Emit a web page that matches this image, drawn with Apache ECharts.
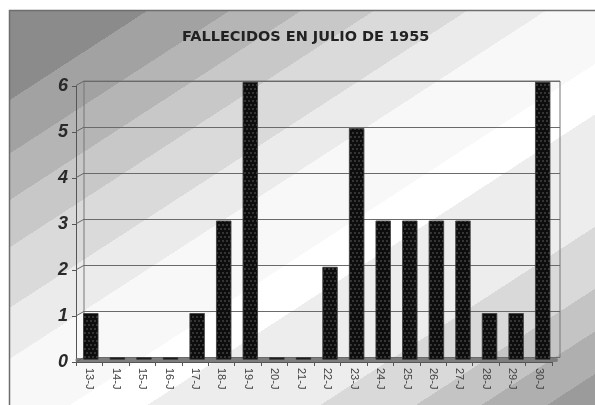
<!DOCTYPE html>
<html><head><meta charset="utf-8">
<script src="https://cdn.jsdelivr.net/npm/echarts@6/dist/echarts.min.js"></script>
<style>html,body{margin:0;padding:0;background:#fff}#c{width:595px;height:405px}</style>
</head><body><div id="c"></div>
<script>
var titleText = 'FALLECIDOS EN JULIO DE 1955';
var categories = ['13-J','14-J','15-J','16-J','17-J','18-J','19-J','20-J','21-J','22-J','23-J','24-J','25-J','26-J','27-J','28-J','29-J','30-J'];
var deaths = [1,0,0,0,1,3,6,0,0,2,5,3,3,3,3,1,1,6];
var yTicks = [0,1,2,3,4,5,6];

var bands = [
  [0.000,'#8b8b8b'],[0.116,'#a2a2a2'],[0.185,'#b5b5b5'],[0.245,'#c8c8c8'],
  [0.306,'#dadada'],[0.384,'#ebebeb'],[0.450,'#f8f8f8'],[0.560,'#ffffff'],
  [0.625,'#ededed'],[0.770,'#d9d9d9'],[0.850,'#c4c4c4'],[0.905,'#afafaf'],[0.960,'#9b9b9b']
];
var stops = [];
for (var i = 0; i < bands.length; i++) {
  var end = i + 1 < bands.length ? bands[i+1][0] : 1;
  stops.push({offset: bands[i][0], color: bands[i][1]});
  stops.push({offset: end, color: bands[i][1]});
}

var chart = echarts.init(document.getElementById('c'), null, {renderer:'canvas'});
var axisFont = 'Arial, "Liberation Sans", sans-serif';
chart.setOption({
  animation: false,
  graphic: [{
    type: 'rect', z: -100, silent: true,
    shape: {x: 9.5, y: 10.5, width: 620, height: 420},
    style: {
      fill: {type:'linear', x:10, y:10, x2:364, y2:555, global:true, colorStops: stops},
      stroke: '#6e6e6e', lineWidth: 1.5
    }
  }],
  title: {
    text: titleText, left: 177, top: 25,
    textStyle: {fontFamily: '"DejaVu Sans", Arial, sans-serif', fontWeight: 'bold', fontSize: 14.5, color: '#222'}
  },
  grid: [
    {left: 84, right: 35, top: 81, bottom: 47.5, show: true, borderColor: '#777', borderWidth: 1, backgroundColor: 'transparent'},
    {left: 77.5, right: 39, top: 82, bottom: 45.5},
    {left: 76, right: 43, top: 86, bottom: 43}
  ],
  xAxis: [
    {gridIndex: 0, type: 'category', data: categories, axisLine: {show:false}, axisTick: {show:false}, axisLabel: {show:false}},
    {gridIndex: 1, type: 'category', data: categories, axisLine: {show:true, lineStyle:{color:'#7d7d7d', width:4}}, axisTick: {show:false}, axisLabel: {show:false}},
    {gridIndex: 2, type: 'category', data: categories,
      axisLine: {show:true, lineStyle:{color:'#555', width:1}},
      axisTick: {show:true, length:4, lineStyle:{color:'#555'}},
      axisLabel: {rotate: -90, margin: 6, fontFamily: axisFont, fontSize: 11, color: '#444'}}
  ],
  yAxis: [
    {gridIndex: 0, type: 'value', min: 0, max: 6, interval: 1, axisLine:{show:false}, axisTick:{show:false}, axisLabel:{show:false},
      splitLine: {show:true, lineStyle:{color:'#6a6a6a', width:1}}},
    {gridIndex: 1, type: 'value', min: 0, max: 6, interval: 1, show: false, splitLine:{show:false}},
    {gridIndex: 2, type: 'value', min: 0, max: 6, interval: 1,
      axisLine: {show:true, lineStyle:{color:'#555', width:1}},
      axisTick: {show:true, length:4, lineStyle:{color:'#555'}},
      splitLine: {show:false},
      axisLabel: {margin: 8, fontFamily: axisFont, fontSize: 18, fontWeight: 'bold', fontStyle: 'italic', color: '#2a2a2a'}}
  ],
  series: [
    {
      type: 'custom', xAxisIndex: 0, yAxisIndex: 0, silent: true, z: 1,
      data: yTicks.map(function(v){ return [0, v]; }),
      renderItem: function(params, api) {
        var p = api.coord([0, api.value(1)]);
        var half = api.size([1, 0])[0] / 2;
        var x = p[0] - half;
        return {type:'line', shape:{x1:x, y1:p[1], x2:x-8, y2:p[1]+4.5}, style:{stroke:'#666', lineWidth:1}};
      }
    },
    {
      type: 'bar', xAxisIndex: 1, yAxisIndex: 1, data: deaths, barWidth: 15, barMinHeight: 2, z: 3,
      itemStyle: {
        color: '#0d0d0d', borderColor: '#3a3a3a', borderWidth: 0.5,
        decal: {symbol: 'circle', symbolSize: 0.7, color: '#7a7a7a', dashArrayX: [[2,2],[0,2,2,0]], dashArrayY: [2,2]}
      }
    }
  ]
});
</script></body></html>
